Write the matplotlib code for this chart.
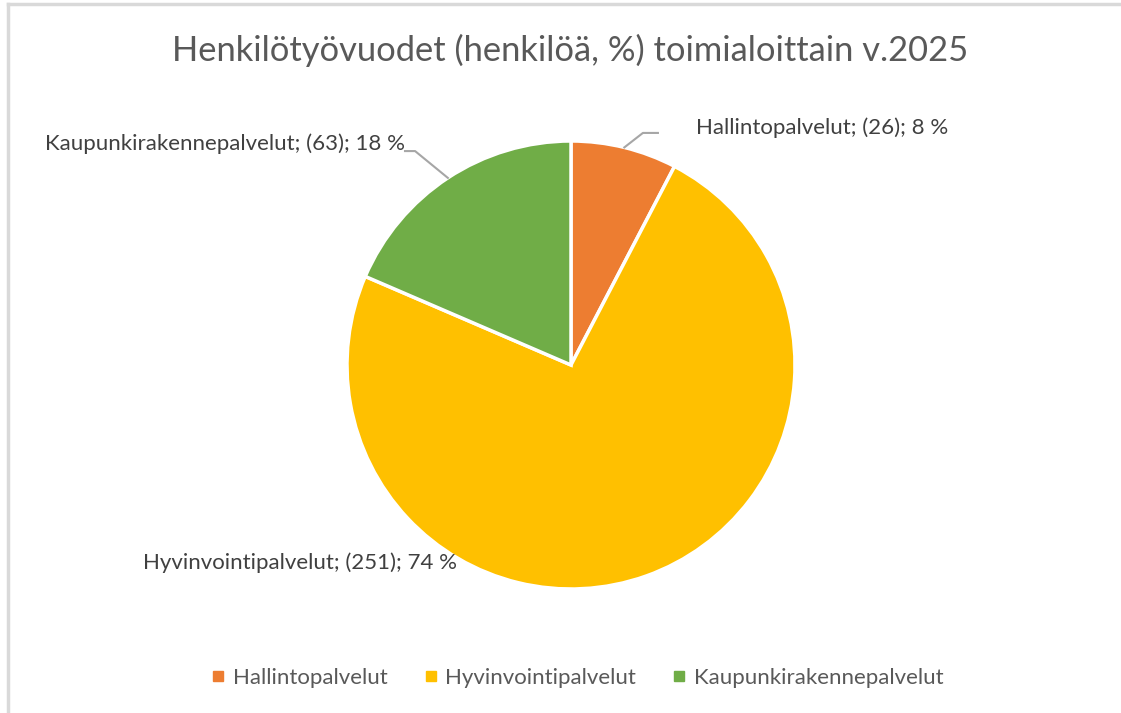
import numpy as np
import matplotlib.pyplot as plt
from matplotlib.lines import Line2D

# Data
categories = ["Hallintopalvelut", "Hyvinvointipalvelut", "Kaupunkirakennepalvelut"]
values = [26, 251, 63]
percents = ["8 %", "74 %", "18 %"]
colors = ["#ED7D31", "#FFC000", "#70AD47"]
title = "Henkilötyövuodet (henkilöä, %) toimialoittain v.2025"

plt.rcParams['font.family'] = ['Lato', 'DejaVu Sans']

W, H = 1121, 713
fig = plt.figure(figsize=(W / 100, H / 100), dpi=100)

# pie axes, centre (571, 365) px, radius 224 px
cx, cy, r = 571, 365, 224
ax = fig.add_axes([(cx - r) / W, (H - cy - r) / H, 2 * r / W, 2 * r / H])
wedges, _ = ax.pie(values, colors=colors, startangle=90, counterclock=False,
                   wedgeprops=dict(edgecolor='white', linewidth=2.5))
ax.set_xlim(-1, 1)
ax.set_ylim(-1, 1)
ax.axis('off')

# label positions in pie units (radius = 1)
label_pos = [(0.56, 1.058, 'left'), (-0.51, -0.884, 'right'), (-0.74, 0.99, 'right')]
leaders = [[(0.321, 1.036), (0.388, 1.036)], None, [(-0.696, 0.955), (-0.741, 0.955)]]

total = sum(values)
start = 90.0
for i, (cat, v, p) in enumerate(zip(categories, values, percents)):
    frac = v / total
    mid = np.deg2rad(start - frac * 360 / 2)
    start -= frac * 360
    x, y, ha = label_pos[i]
    ax.text(x, y, f"{cat}; ({v}); {p}", ha=ha, va='center', fontsize=16,
            color='#404040', clip_on=False)
    if leaders[i] is not None:
        pts = [(np.cos(mid), np.sin(mid))] + leaders[i]
        xs, ys = zip(*pts)
        ax.plot(xs, ys, color='#A6A6A6', linewidth=1.5, clip_on=False)

fig.text(570 / W, 1 - 50 / H, title, ha='center', va='center', fontsize=24.8,
         color='#595959')

handles = [Line2D([], [], marker='s', linestyle='', markersize=7,
                  markerfacecolor=c, markeredgecolor=c) for c in colors]
fig.legend(handles, categories, loc='center', bbox_to_anchor=(577 / W, 1 - 678 / H),
           ncol=3, frameon=False, fontsize=16, handletextpad=0.3,
           columnspacing=1.6, labelcolor='#595959', handlelength=0.7)

# chart border lines (top and left)
fig.add_artist(Line2D([8 / W, 1], [1 - 4 / H, 1 - 4 / H], color='#D9D9D9', linewidth=2.5))
fig.add_artist(Line2D([8 / W, 8 / W], [0, 1 - 4 / H], color='#D9D9D9', linewidth=2.5))

fig.savefig('out.png', dpi=100, facecolor='white')
